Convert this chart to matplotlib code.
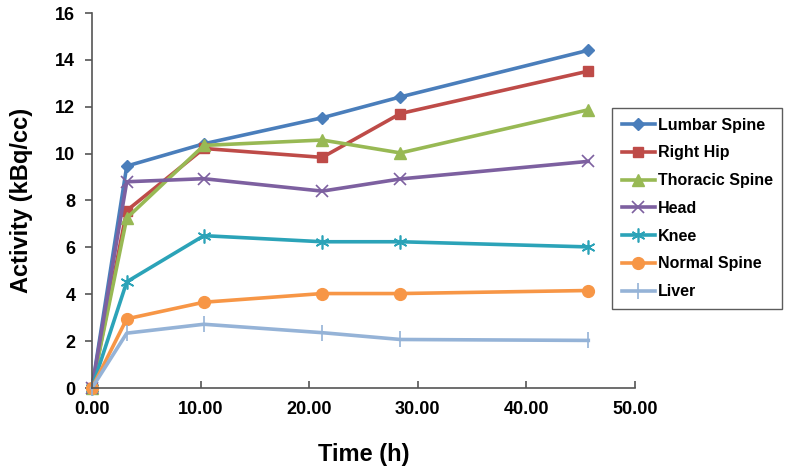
import matplotlib
matplotlib.use("Agg")
from matplotlib import pyplot as plt
from matplotlib.ticker import FormatStrFormatter

plt.rcParams['font.family'] = ['Liberation Sans', 'DejaVu Sans']
plt.rcParams['font.weight'] = 'bold'

# sampling times (h)
time_h = [0, 3.2, 10.3, 21.2, 28.4, 45.7]

lumbar_spine = [0, 9.47, 10.42, 11.53, 12.42, 14.41]
right_hip = [0, 7.57, 10.22, 9.84, 11.71, 13.52]
thoracic_spine = [0, 7.25, 10.35, 10.58, 10.03, 11.87]
head = [0, 8.8, 8.93, 8.4, 8.92, 9.67]
knee = [0, 4.53, 6.5, 6.24, 6.24, 6.02]
normal_spine = [0, 2.95, 3.66, 4.03, 4.03, 4.16]
liver = [0, 2.34, 2.72, 2.36, 2.07, 2.03]

series = [
    ("Lumbar Spine", lumbar_spine, '#4a7ebb', 'D', 6.5),
    ("Right Hip", right_hip, '#be4b48', 's', 7.5),
    ("Thoracic Spine", thoracic_spine, '#98b954', '^', 8.5),
    ("Head", head, '#7d60a0', 'x', 9),
    ("Knee", knee, '#2ba3b8', (6, 2, 0), 10),
    ("Normal Spine", normal_spine, '#f79646', 'o', 8.5),
    ("Liver", liver, '#95b3d7', '|', 11),
]

fig = plt.figure(figsize=(7.89, 4.69), dpi=100)
ax = fig.add_axes([92 / 789, 1 - 388 / 469, (635 - 92) / 789, (388 - 13) / 469])

for name, vals, col, mk, ms in series:
    ax.plot(time_h, vals, color=col, lw=2.6, marker=mk, markersize=ms,
            markeredgewidth=1.2 if mk in ('x', '|', (6, 2, 0)) else 1,
            markerfacecolor=col, markeredgecolor=col, label=name, clip_on=False)

ax.set_xlim(0, 50)
ax.set_ylim(0, 16)
ax.set_xticks(range(0, 51, 10))
ax.set_yticks(range(0, 17, 2))
ax.xaxis.set_major_formatter(FormatStrFormatter('%.2f'))

for s in ['top', 'right']:
    ax.spines[s].set_visible(False)
for s in ['left', 'bottom']:
    ax.spines[s].set_color('#555555')
    ax.spines[s].set_linewidth(1.2)

ax.tick_params(axis='x', direction='in', length=5, width=1.2, color='#555555',
               labelsize=13, pad=9)
ax.tick_params(axis='y', direction='out', length=5, width=1.2, color='#555555',
               labelsize=13, pad=7)

ax.set_xlabel("Time (h)", fontsize=17, fontweight='bold', labelpad=18)
ax.set_ylabel("Activity (kBq/cc)", fontsize=17, fontweight='bold', labelpad=16)

leg = ax.legend(loc='upper left', bbox_to_anchor=(612 / 789, 1 - 108 / 469),
                bbox_transform=fig.transFigure, frameon=True, fancybox=False,
                fontsize=11.5, handlelength=2.1, handletextpad=0.15,
                labelspacing=0.8, borderpad=0.6, borderaxespad=0)
leg.get_frame().set_edgecolor('#333333')
leg.get_frame().set_linewidth(1.0)

fig.savefig("out.png", dpi=100)
